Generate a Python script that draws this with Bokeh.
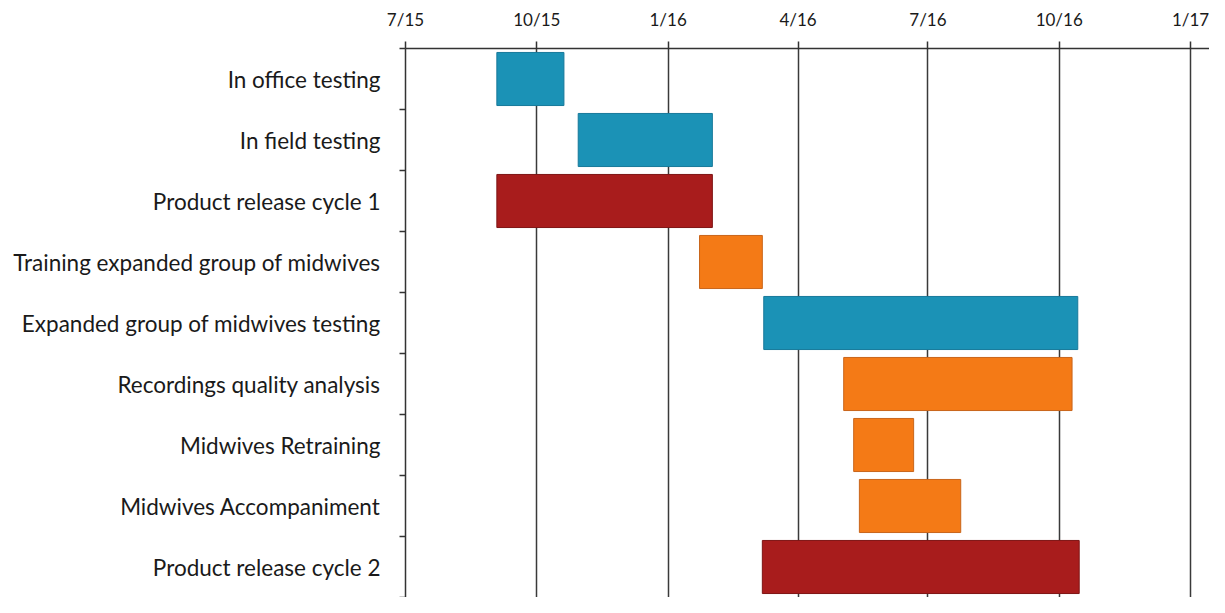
from datetime import datetime
import pandas as pd
from bokeh.plotting import figure
from bokeh.models import ColumnDataSource, Range1d, FixedTicker
from bokeh.transform import factor_cmap
from bokeh.embed import file_html
from bokeh.resources import INLINE

# ---- data ----
tasks = [
    "In office testing",
    "In field testing",
    "Product release cycle 1",
    "Training expanded group of midwives",
    "Expanded group of midwives testing",
    "Recordings quality analysis",
    "Midwives Retraining",
    "Midwives Accompaniment",
    "Product release cycle 2",
]
starts = ["2015-09-03", "2015-10-30", "2015-09-03", "2016-01-23", "2016-03-08",
          "2016-05-03", "2016-05-10", "2016-05-14", "2016-03-07"]
ends = ["2015-10-20", "2016-02-01", "2016-02-01", "2016-03-07", "2016-10-14",
        "2016-10-10", "2016-06-21", "2016-07-24", "2016-10-15"]
phases = ["Testing", "Testing", "Release", "Training", "Testing",
          "Training", "Training", "Training", "Release"]
tick_dates = ["2015-07-01", "2015-10-01", "2016-01-01", "2016-04-01",
              "2016-07-01", "2016-10-01", "2017-01-01"]
tick_labels = ["7/15", "10/15", "1/16", "4/16", "7/16", "10/16", "1/17"]

phase_names = ["Testing", "Release", "Training"]
phase_colors = ["#1b92b6", "#a81c1c", "#f47a16"]
phase_borders = ["#17799a", "#7e1414", "#c9651a"]

FONT = "Lato"

n = len(tasks)
src = ColumnDataSource(dict(
    y=[i + 0.5 for i in range(n)],
    left=pd.to_datetime(starts),
    right=pd.to_datetime(ends),
    phase=phases,
    task=tasks,
))

p = figure(width=1209, height=597, output_backend="svg", toolbar_location=None,
           x_axis_type="datetime", x_axis_location="above",
           x_range=Range1d(datetime(2015, 7, 1), datetime(2017, 1, 14, 7)),
           y_range=Range1d(n, 0),
           min_border_left=405, min_border_right=0, min_border_top=48,
           min_border_bottom=0)
p.outline_line_color = None
p.background_fill_color = "white"
p.border_fill_color = "white"

p.hbar(y="y", left="left", right="right", height=0.87, source=src,
       fill_color=factor_cmap("phase", phase_colors, phase_names),
       line_color=factor_cmap("phase", phase_borders, phase_names),
       line_width=1)

# x axis (top)
tick_ms = [int(pd.Timestamp(d).value // 10**6) for d in tick_dates]
xa = p.xaxis[0]
xa.ticker = FixedTicker(ticks=tick_ms)
xa.major_label_overrides = {t: l for t, l in zip(tick_ms, tick_labels)}
xa.major_tick_out = 7
xa.major_tick_in = 0
xa.minor_tick_line_color = None
xa.axis_line_color = "#333333"
xa.axis_line_width = 1.5
xa.major_tick_line_color = "#333333"
xa.major_tick_line_width = 1.5
xa.major_label_text_font = FONT
xa.major_label_text_font_size = "17px"
xa.major_label_text_color = "#1a1a1a"
xa.major_label_standoff = 12

# y axis (left): labels at centres, small ticks at boundaries
ya = p.yaxis[0]
ya.ticker = FixedTicker(ticks=[i + 0.5 for i in range(n)],
                        minor_ticks=list(range(n + 1)))
ya.major_label_overrides = {i + 0.5: t for i, t in enumerate(tasks)}
ya.major_tick_out = 0
ya.major_tick_in = 0
ya.minor_tick_out = 6
ya.minor_tick_in = 0
ya.minor_tick_line_color = "#333333"
ya.minor_tick_line_width = 1.5
ya.axis_line_color = "#333333"
ya.axis_line_width = 1.5
ya.major_label_text_font = FONT
ya.major_label_text_font_size = "22.5px"
ya.major_label_text_color = "#1a1a1a"
ya.major_label_standoff = 19

p.xgrid.ticker = FixedTicker(ticks=tick_ms)
p.xgrid.grid_line_color = "#3a3a3a"
p.xgrid.grid_line_width = 1.5
p.ygrid.grid_line_color = None

open("out.html", "w").write(file_html(p, INLINE))
